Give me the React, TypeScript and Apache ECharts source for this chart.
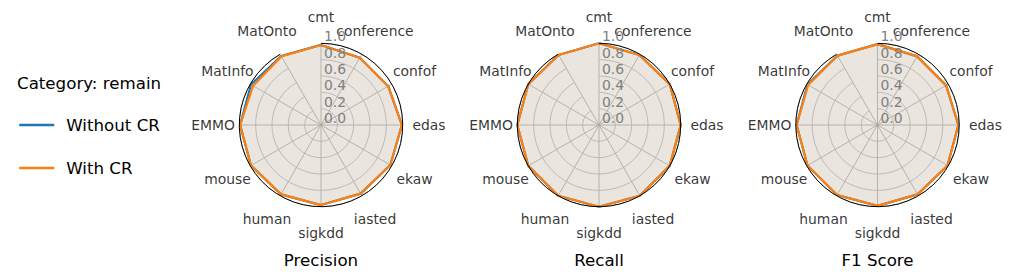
import React, { useEffect, useRef } from 'react';
import * as echarts from 'echarts';

const categories = ['cmt', 'conference', 'confof', 'edas', 'ekaw', 'iasted', 'sigkdd', 'human', 'mouse', 'EMMO', 'MatInfo', 'MatOnto'];
const metricTitles = ['Precision', 'Recall', 'F1 Score'];
const seriesNames = ['Without CR', 'With CR'];
const legendHeader = 'Category: remain';
const radialMin = 0;
const radialMax = 1;
const radialStep = 0.2;

const precisionWithoutCR = [0.98, 0.95, 0.95, 0.99, 0.98, 0.97, 0.98, 0.98, 0.99, 0.99, 0.99, 0.975];
const precisionWithCR = [0.98, 0.95, 0.95, 0.99, 0.98, 0.97, 0.98, 0.98, 0.99, 0.99, 0.96, 0.97];
const recallWithoutCR = [1.0, 0.99, 1.0, 1.0, 1.0, 1.0, 1.0, 1.0, 1.0, 1.0, 1.0, 0.99];
const recallWithCR = [1.0, 0.99, 1.0, 1.0, 1.0, 1.0, 1.0, 1.0, 1.0, 1.0, 1.0, 0.99];
const f1WithoutCR = [0.99, 0.97, 0.97, 0.99, 0.99, 0.98, 0.99, 0.99, 0.99, 0.99, 0.99, 0.98];
const f1WithCR = [0.99, 0.97, 0.97, 0.99, 0.99, 0.98, 0.99, 0.99, 0.99, 0.99, 0.98, 0.98];

const panels = [
  [precisionWithoutCR, precisionWithCR],
  [recallWithoutCR, recallWithCR],
  [f1WithoutCR, f1WithCR],
];

const colors = ['#1f77b4', '#ff7f0e'];
const FONT = 'DejaVu Sans';

export default function App() {
  const ref = useRef<HTMLDivElement>(null);
  useEffect(() => {
    if (!ref.current) return;
    const chart = echarts.init(ref.current, null, { renderer: 'svg' });
    const centersX = [321, 599, 877.5];
    const cy = 125;
    const R = 81.7;
    const labelR = 108;
    const pad = 1.04; // data polar slightly larger so lines at 1.0 are not clipped
    const halfStep = 360 / categories.length / 2;

    const polar: any[] = [];
    const angleAxis: any[] = [];
    const radiusAxis: any[] = [];
    const series: any[] = [];
    const title: any[] = [];

    const hidden = {
      axisLine: { show: false },
      axisTick: { show: false },
      axisLabel: { show: false },
      splitLine: { show: false },
    };

    centersX.forEach((cx, p) => {
      const base = polar.length;
      // grid polar: spokes, rings, radial tick labels
      polar.push({ center: [cx, cy], radius: R });
      angleAxis.push({
        polarIndex: base,
        type: 'category',
        data: categories,
        boundaryGap: false,
        startAngle: 90,
        clockwise: true,
        axisLine: { show: false },
        axisTick: { show: false },
        axisLabel: { show: false },
        splitLine: { show: true, interval: 0, lineStyle: { color: '#b0b0b0', width: 0.8 } },
      });
      radiusAxis.push({
        polarIndex: base,
        type: 'value',
        min: radialMin,
        max: radialMax,
        interval: radialStep,
        axisLine: { show: false },
        axisTick: { show: false },
        splitLine: { show: true, lineStyle: { color: '#b0b0b0', width: 0.8 } },
        axisLabel: {
          show: true,
          color: '#808080',
          fontFamily: FONT,
          fontSize: 13.9,
          margin: -3,
          align: 'left',
          verticalAlign: 'bottom',
          formatter: (v: number) => v.toFixed(1),
        },
        z: 5,
      });
      // data polar (full-circle band layout so nothing is clipped)
      polar.push({ center: [cx, cy], radius: R * pad });
      angleAxis.push({
        polarIndex: base + 1,
        type: 'category',
        data: categories,
        boundaryGap: true,
        startAngle: 90 + halfStep,
        clockwise: true,
        ...hidden,
      });
      radiusAxis.push({
        polarIndex: base + 1,
        type: 'value',
        min: radialMin,
        max: radialMax * pad,
        ...hidden,
      });
      // label polar
      polar.push({ center: [cx, cy], radius: labelR });
      angleAxis.push({
        polarIndex: base + 2,
        type: 'category',
        data: categories,
        boundaryGap: false,
        startAngle: 90,
        clockwise: true,
        ...hidden,
      });
      radiusAxis.push({ polarIndex: base + 2, type: 'value', min: 0, max: 1, ...hidden });
      // spine polar (black outer circle on top)
      polar.push({ center: [cx, cy], radius: R });
      angleAxis.push({
        polarIndex: base + 3,
        type: 'category',
        data: categories,
        boundaryGap: false,
        startAngle: 90,
        clockwise: true,
        ...hidden,
        axisLine: { show: true, lineStyle: { color: '#000', width: 1 } },
        z: 10,
      });
      radiusAxis.push({ polarIndex: base + 3, type: 'value', min: 0, max: 1, ...hidden });

      panels[p].forEach((vals, s) => {
        const d: any[] = categories.map((c, i) => [vals[i], i]);
        d.push([vals[0], 0]);
        series.push({
          type: 'line',
          name: seriesNames[s],
          coordinateSystem: 'polar',
          polarIndex: base + 1,
          data: d,
          symbol: 'none',
          smooth: false,
          clip: false,
          lineStyle: { color: colors[s], width: 2.2 },
          itemStyle: { color: colors[s] },
          areaStyle: { color: colors[s], opacity: 0.1 },
          z: 2 + s,
        });
      });

      series.push({
        type: 'scatter',
        coordinateSystem: 'polar',
        polarIndex: base + 2,
        data: categories.map((c, i) => [1, i]),
        symbolSize: 1,
        clip: false,
        itemStyle: { color: 'rgba(0,0,0,0)' },
        silent: true,
        label: {
          show: true,
          position: 'inside',
          color: '#000',
          fontFamily: FONT,
          fontSize: 13.9,
          formatter: (pp: any) => categories[pp.value[1]],
        },
      });

      title.push({
        text: metricTitles[p],
        left: cx,
        top: 251.5,
        textAlign: 'center',
        padding: 0,
        textStyle: { fontFamily: FONT, fontSize: 16.67, fontWeight: 'normal', color: '#000' },
      });
    });

    title.push({
      text: legendHeader,
      left: 17,
      top: 75,
      padding: 0,
      textStyle: { fontFamily: FONT, fontSize: 16.67, fontWeight: 'normal', color: '#000' },
    });

    chart.setOption({
      animation: false,
      backgroundColor: '#fff',
      title,
      legend: {
        data: seriesNames,
        orient: 'vertical',
        left: 18,
        top: 116.5,
        padding: 0,
        itemWidth: 35,
        itemHeight: 4,
        itemGap: 26,
        itemStyle: { opacity: 0 },
        lineStyle: { width: 2.5 },
        textStyle: { fontFamily: FONT, fontSize: 16.67, color: '#000', padding: [0, 0, 0, 7] },
      },
      polar,
      angleAxis,
      radiusAxis,
      series,
    });
    return () => chart.dispose();
  }, []);
  return <div ref={ref} style={{ position: 'fixed', left: 0, top: 0, width: 1013, height: 279 }} />;
}
